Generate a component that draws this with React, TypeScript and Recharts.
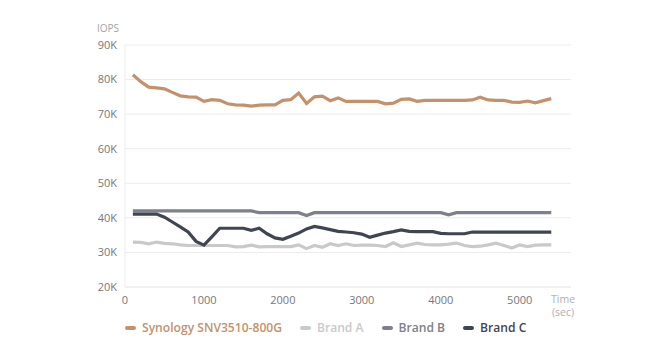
import { LineChart, Line, XAxis, YAxis, CartesianGrid } from 'recharts';

// Time axis (sec), one sample every 100 s
const times = [
  100, 200, 300, 400, 500, 600, 700, 800, 900, 1000,
  1100, 1200, 1300, 1400, 1500, 1600, 1700, 1800, 1900, 2000,
  2100, 2200, 2300, 2400, 2500, 2600, 2700, 2800, 2900, 3000,
  3100, 3200, 3300, 3400, 3500, 3600, 3700, 3800, 3900, 4000,
  4100, 4200, 4300, 4400, 4500, 4600, 4700, 4800, 4900, 5000,
  5100, 5200, 5300, 5400,
];

// IOPS in thousands
const synology = [
  81.4, 79.4, 77.8, 77.6, 77.3, 76.3, 75.3, 75.0, 74.9, 73.7,
  74.2, 74.0, 73.0, 72.7, 72.6, 72.3, 72.6, 72.7, 72.7, 74.0,
  74.2, 76.1, 73.1, 75.0, 75.2, 73.9, 74.7, 73.7, 73.7, 73.7,
  73.7, 73.7, 73.0, 73.2, 74.3, 74.4, 73.7, 74.0, 74.0, 74.0,
  74.0, 74.0, 74.0, 74.1, 74.9, 74.1, 74.0, 74.0, 73.5, 73.4,
  73.8, 73.3, 73.9, 74.5,
];

const brandA = [
  33.0, 32.9, 32.5, 33.0, 32.6, 32.5, 32.2, 32.0, 32.0, 32.0,
  32.0, 32.0, 32.0, 31.6, 31.7, 32.1, 31.6, 31.7, 31.7, 31.7,
  31.7, 32.2, 31.1, 32.0, 31.5, 32.5, 32.0, 32.5, 32.0, 32.1,
  32.1, 32.0, 31.7, 32.8, 31.7, 32.2, 32.7, 32.3, 32.2, 32.2,
  32.4, 32.7, 32.0, 31.7, 31.8, 32.2, 32.7, 32.0, 31.3, 32.2,
  31.7, 32.1, 32.2, 32.2,
];

const brandB = [
  42.0, 42.0, 42.0, 42.0, 42.0, 42.0, 42.0, 42.0, 42.0, 42.0,
  42.0, 42.0, 42.0, 42.0, 42.0, 42.0, 41.5, 41.5, 41.5, 41.5,
  41.5, 41.5, 40.7, 41.5, 41.5, 41.5, 41.5, 41.5, 41.5, 41.5,
  41.5, 41.5, 41.5, 41.5, 41.5, 41.5, 41.5, 41.5, 41.5, 41.5,
  40.9, 41.5, 41.5, 41.5, 41.5, 41.5, 41.5, 41.5, 41.5, 41.5,
  41.5, 41.5, 41.5, 41.5,
];

const brandC = [
  41.1, 41.1, 41.1, 41.1, 40.2, 38.8, 37.4, 35.9, 33.2, 32.1,
  34.5, 37.0, 37.0, 37.0, 37.0, 36.4, 37.0, 35.4, 34.2, 33.8,
  34.7, 35.6, 36.8, 37.5, 37.1, 36.6, 36.1, 35.9, 35.7, 35.3,
  34.4, 35.0, 35.6, 36.0, 36.5, 36.1, 36.0, 36.0, 36.0, 35.5,
  35.4, 35.4, 35.4, 35.9, 35.9, 35.9, 35.9, 35.9, 35.9, 35.9,
  35.9, 35.9, 35.9, 35.9,
];

const xTicks = [0, 1000, 2000, 3000, 4000, 5000];
const yTicks = [20, 30, 40, 50, 60, 70, 80, 90];

const series = [
  { key: 'synology', name: 'Synology SNV3510-800G', color: '#c4916a' },
  { key: 'brandA', name: 'Brand A', color: '#c9c9c9' },
  { key: 'brandB', name: 'Brand B', color: '#7e808b' },
  { key: 'brandC', name: 'Brand C', color: '#3f4652' },
];

const data = times.map((t, i) => ({
  t,
  synology: synology[i],
  brandA: brandA[i],
  brandB: brandB[i],
  brandC: brandC[i],
}));

const FONT = '"Open Sans", sans-serif';

export default function App() {
  return (
    <div style={{ position: 'absolute', top: 0, left: 0, width: 657, height: 356, background: '#fff', fontFamily: FONT }}>
      <LineChart width={657} height={356} data={data} margin={{ top: 45, right: 86, bottom: 39, left: 0 }}>
        <CartesianGrid vertical={false} stroke="#ececec" />
        <XAxis
          dataKey="t"
          type="number"
          domain={[0, 5650]}
          ticks={xTicks}
          tickLine={false}
          axisLine={{ stroke: '#ececec' }}
          tick={{ fontSize: 11, fill: '#777', fontFamily: FONT }}
          tickMargin={3}
        />
        <YAxis
          domain={[20, 90]}
          ticks={yTicks}
          width={125}
          tickLine={false}
          axisLine={{ stroke: '#ececec' }}
          tickFormatter={(v: number) => `${v}K`}
          tick={{ fontSize: 11, fill: '#777', fontFamily: FONT }}
          tickMargin={2}
        />
        {series.map((s) => (
          <Line
            key={s.key}
            dataKey={s.key}
            name={s.name}
            stroke={s.color}
            strokeWidth={3.2}
            dot={false}
            type="linear"
            isAnimationActive={false}
          />
        ))}
      </LineChart>

      <div style={{ position: 'absolute', left: 97, top: 21, fontSize: 10, color: '#a5a5a5' }}>IOPS</div>
      <div style={{ position: 'absolute', left: 551, top: 293, fontSize: 10.5, color: '#b0b0b0', lineHeight: '13px', textAlign: 'center' }}>
        Time<br />(sec)
      </div>

      <div style={{ position: 'absolute', left: 125, top: 319, display: 'flex', gap: 18, alignItems: 'center' }}>
        {series.map((s) => (
          <div key={s.key} style={{ display: 'flex', alignItems: 'center' }}>
            <span style={{ display: 'inline-block', width: 11, height: 4, borderRadius: 2, background: s.color, marginRight: 6 }} />
            <span style={{ fontSize: 12.1, fontWeight: 600, color: s.color }}>{s.name}</span>
          </div>
        ))}
      </div>
    </div>
  );
}
